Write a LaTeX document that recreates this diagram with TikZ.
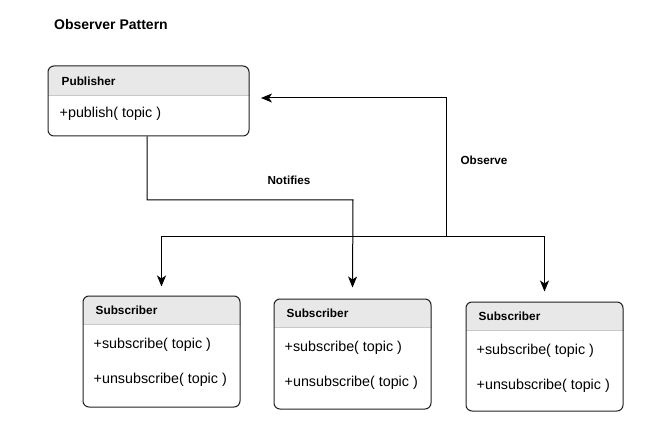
\documentclass[tikz,border=0pt]{standalone}
\usepackage{fontspec}
\setmainfont{Liberation Sans}
\usetikzlibrary{arrows.meta,backgrounds}
\definecolor{headgray}{HTML}{E8E8E8}
\definecolor{linegray}{HTML}{222222}
\tikzset{
  umlbox/.style={draw=linegray, line width=1pt, rounded corners=6pt, inner sep=0pt},
  hd/.style={anchor=west, inner sep=0pt, font=\bfseries\fontsize{11.8}{13}\selectfont},
  meth/.style={anchor=west, inner sep=0pt, font=\fontsize{14.3}{16}\selectfont},
  lbl/.style={inner sep=0pt, font=\bfseries\fontsize{11.7}{13}\selectfont},
  conn/.style={draw=black, line width=1pt},
  arr/.style={conn, -{Stealth[length=11pt,width=9pt,inset=3pt]}},
  sepline/.style={draw=headgray!70!gray, line width=0.6pt}
}
\begin{document}
\begin{tikzpicture}[x=1pt,y=-1pt]
\useasboundingbox (0,0) rectangle (662,441);
\node[anchor=west, inner sep=0pt, font=\bfseries\fontsize{14}{16}\selectfont] (title) at (54,24) {Observer Pattern};

% Publisher
\node[umlbox, minimum width=201pt, minimum height=70pt] (pub) at (148.5,101) {};
\node[hd] (pubh) at ([xshift=14pt,yshift=-16pt]pub.north west) {Publisher};
\node[meth] (pubm) at ([xshift=12pt,yshift=-48.5pt]pub.north west) {+publish( topic )};

% Subscribers
\node[umlbox, minimum width=157pt, minimum height=111pt] (s1) at (161.5,351.5) {};
\node[umlbox, minimum width=157pt, minimum height=110pt] (s2) at (352.5,354) {};
\node[umlbox, minimum width=157pt, minimum height=109pt] (s3) at (544.5,356.5) {};
\foreach \s in {s1,s2,s3}{
  \node[hd] (\s h) at ([xshift=13pt,yshift=-15pt]\s.north west) {Subscriber};
  \node[meth] (\s a) at ([xshift=11pt,yshift=-49.5pt]\s.north west) {+subscribe( topic )};
  \node[meth] (\s b) at ([xshift=11pt,yshift=-84.5pt]\s.north west) {+unsubscribe( topic )};
}

\begin{scope}[on background layer]
  \foreach \b/\h in {pub/30,s1/29,s2/29,s3/29}{
    \fill[headgray, rounded corners=6pt] (\b.north west) -- ([yshift=-\h pt]\b.north west) -- ([yshift=-\h pt]\b.north east) -- (\b.north east) -- cycle;
    \fill[headgray] ([yshift=-8pt]\b.north west) rectangle ([yshift=-\h pt]\b.north east);
    \draw[sepline] ([yshift=-\h pt]\b.north west) -- ([yshift=-\h pt]\b.north east);
  }
\end{scope}

% Connectors
\coordinate (bus) at (446,237);
\coordinate (pubin) at (261,98);
\coordinate (nt) at (353,200);
\draw[arr] (bus) |- (pubin);
\draw[arr] (bus) -| ([yshift=9pt]s1.north);
\draw[arr] (bus) -| ([yshift=10pt]s3.north);
\draw[arr] ([xshift=-1.5pt]pub.south) |- (nt) -- ([yshift=11pt]s2.north);

\node[lbl] (notl) at (289,180) {Notifies};
\node[lbl] (obsl) at (484,160) {Observe};
\end{tikzpicture}
\end{document}
